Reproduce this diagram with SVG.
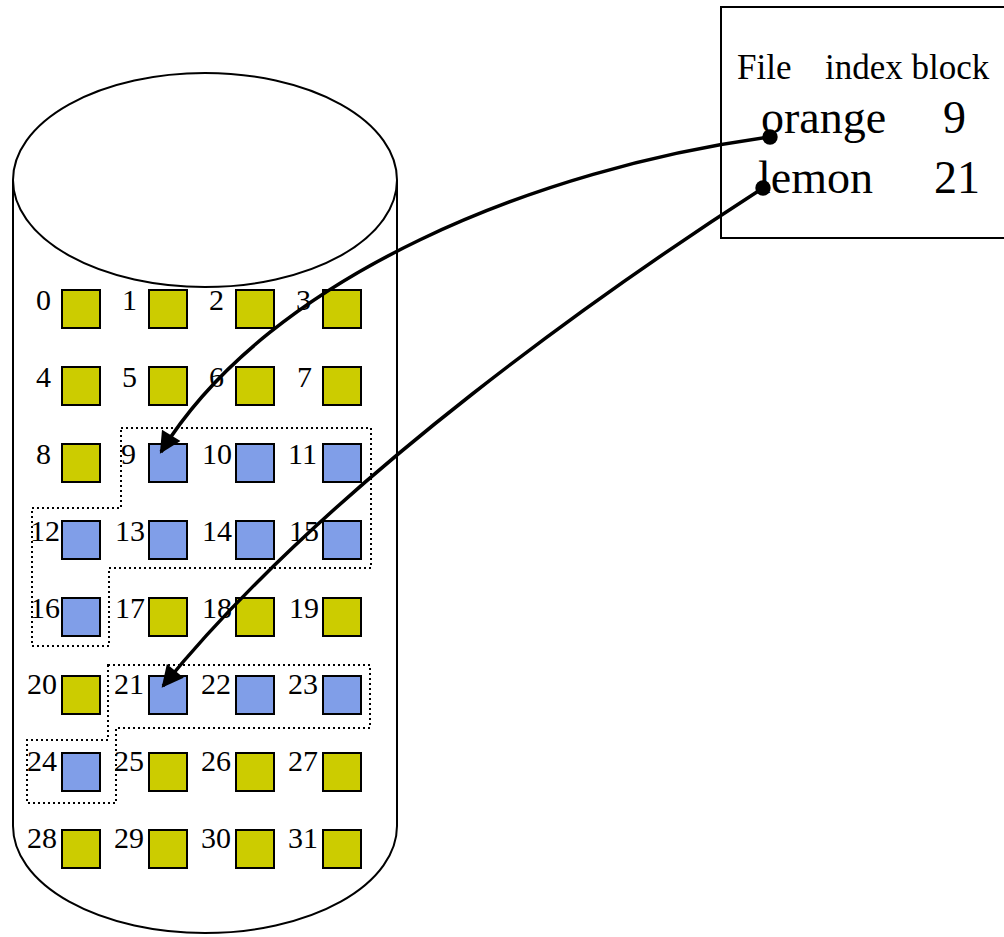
<svg xmlns="http://www.w3.org/2000/svg" width="1004" height="937" viewBox="0 0 1004 937">
<defs>
<style>
.cyl{fill:#fff;stroke:#000;stroke-width:2}
.y{fill:#CCCC00;stroke:#000;stroke-width:2}
.b{fill:#809EE8;stroke:#000;stroke-width:2}
.n{font-family:"Liberation Serif",serif;font-size:30px;fill:#000}
.t1{font-family:"Liberation Serif",serif;font-size:35px;fill:#000}
.t2{font-family:"Liberation Serif",serif;font-size:46px;fill:#000}
.dot{fill:none;stroke:#000;stroke-width:2;stroke-dasharray:2 3}
.conn{fill:none;stroke:#000;stroke-width:3.5}
</style>
<marker id="ah" viewBox="0 0 10 10" refX="9" refY="5" markerWidth="6.8" markerHeight="6.2" orient="auto" markerUnits="strokeWidth">
<path d="M0,0 L10,5 L0,10 z" fill="#000"/>
</marker>
<marker id="dt" viewBox="0 0 10 10" refX="5" refY="5" markerWidth="4.4" markerHeight="4.4" markerUnits="strokeWidth">
<circle cx="5" cy="5" r="5" fill="#000"/>
</marker>
</defs>
<g id="disk">
<path class="cyl" d="M13,180 L13,826 A192,107 0 0 0 397,826 L397,180"/>
<ellipse class="cyl" cx="205" cy="180" rx="192" ry="107"/>
</g>
<g id="regions">
<path class="dot" d="M121,428 L371,428 L371,568 L109,568 L109,646 L32,646 L32,508 L121,508 Z"/>
<path class="dot" d="M108,665 L370,665 L370,728 L116,728 L116,803 L27,803 L27,740 L108,740 Z"/>
</g>
<g id="blocks">
<g id="b0"><rect class="y" x="62" y="290" width="38" height="38"/><text class="n" x="36" y="310">0</text></g>
<g id="b1"><rect class="y" x="149" y="290" width="38" height="38"/><text class="n" x="122" y="310">1</text></g>
<g id="b2"><rect class="y" x="236" y="290" width="38" height="38"/><text class="n" x="209" y="310">2</text></g>
<g id="b3"><rect class="y" x="323" y="290" width="38" height="38"/><text class="n" x="296" y="310">3</text></g>
<g id="b4"><rect class="y" x="62" y="367" width="38" height="38"/><text class="n" x="36" y="387">4</text></g>
<g id="b5"><rect class="y" x="149" y="367" width="38" height="38"/><text class="n" x="122" y="387">5</text></g>
<g id="b6"><rect class="y" x="236" y="367" width="38" height="38"/><text class="n" x="209" y="387">6</text></g>
<g id="b7"><rect class="y" x="323" y="367" width="38" height="38"/><text class="n" x="297" y="387">7</text></g>
<g id="b8"><rect class="y" x="62" y="444" width="38" height="38"/><text class="n" x="36" y="464">8</text></g>
<g id="b9"><rect class="b" x="149" y="444" width="38" height="38"/><text class="n" x="121" y="464">9</text></g>
<g id="b10"><rect class="b" x="236" y="444" width="38" height="38"/><text class="n" x="202" y="464">10</text></g>
<g id="b11"><rect class="b" x="323" y="444" width="38" height="38"/><text class="n" x="288" y="464">11</text></g>
<g id="b12"><rect class="b" x="62" y="521" width="38" height="38"/><text class="n" x="30" y="541">12</text></g>
<g id="b13"><rect class="b" x="149" y="521" width="38" height="38"/><text class="n" x="115" y="541">13</text></g>
<g id="b14"><rect class="b" x="236" y="521" width="38" height="38"/><text class="n" x="202" y="541">14</text></g>
<g id="b15"><rect class="b" x="323" y="521" width="38" height="38"/><text class="n" x="289" y="541">15</text></g>
<g id="b16"><rect class="b" x="62" y="598" width="38" height="38"/><text class="n" x="30" y="618">16</text></g>
<g id="b17"><rect class="y" x="149" y="598" width="38" height="38"/><text class="n" x="115" y="618">17</text></g>
<g id="b18"><rect class="y" x="236" y="598" width="38" height="38"/><text class="n" x="202" y="618">18</text></g>
<g id="b19"><rect class="y" x="323" y="598" width="38" height="38"/><text class="n" x="289" y="618">19</text></g>
<g id="b20"><rect class="y" x="62" y="676" width="38" height="38"/><text class="n" x="27" y="694">20</text></g>
<g id="b21"><rect class="b" x="149" y="676" width="38" height="38"/><text class="n" x="114" y="694">21</text></g>
<g id="b22"><rect class="b" x="236" y="676" width="38" height="38"/><text class="n" x="201" y="694">22</text></g>
<g id="b23"><rect class="b" x="323" y="676" width="38" height="38"/><text class="n" x="288" y="694">23</text></g>
<g id="b24"><rect class="b" x="62" y="753" width="38" height="38"/><text class="n" x="27" y="771">24</text></g>
<g id="b25"><rect class="y" x="149" y="753" width="38" height="38"/><text class="n" x="114" y="771">25</text></g>
<g id="b26"><rect class="y" x="236" y="753" width="38" height="38"/><text class="n" x="201" y="771">26</text></g>
<g id="b27"><rect class="y" x="323" y="753" width="38" height="38"/><text class="n" x="288" y="771">27</text></g>
<g id="b28"><rect class="y" x="62" y="830" width="38" height="38"/><text class="n" x="27" y="848">28</text></g>
<g id="b29"><rect class="y" x="149" y="830" width="38" height="38"/><text class="n" x="114" y="848">29</text></g>
<g id="b30"><rect class="y" x="236" y="830" width="38" height="38"/><text class="n" x="201" y="848">30</text></g>
<g id="b31"><rect class="y" x="323" y="830" width="38" height="38"/><text class="n" x="288" y="848">31</text></g>
</g>
<g id="directory">
<rect x="721" y="7" width="300" height="231" fill="#fff" stroke="#000" stroke-width="2"/>
<text class="t1" x="737" y="79">File</text>
<text class="t1" x="825" y="79">index block</text>
<text class="t2" x="761" y="133">orange</text>
<text class="t2" x="943" y="133">9</text>
<text class="t2" x="758" y="193">lemon</text>
<text class="t2" x="934" y="193">21</text>
</g>
<g id="connectors">
<path class="conn" d="M770,137 C540,168 270,275 161,452" marker-start="url(#dt)" marker-end="url(#ah)"/>
<path class="conn" d="M763,188 C620,280 330,480 163,686" marker-start="url(#dt)" marker-end="url(#ah)"/>
</g>
</svg>
